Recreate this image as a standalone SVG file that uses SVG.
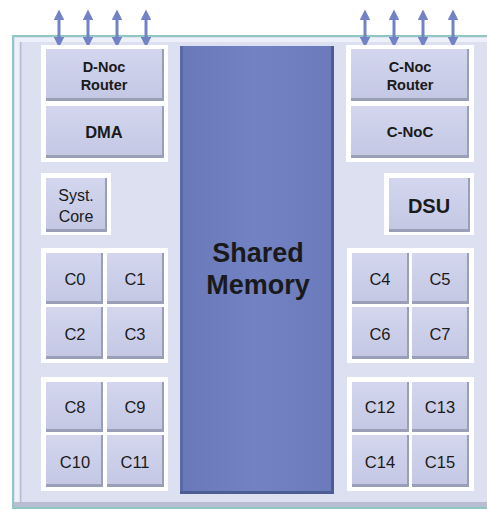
<svg xmlns="http://www.w3.org/2000/svg" width="487" height="510" viewBox="0 0 487 510">
<defs>
<style>
.cell{fill:url(#cg);stroke:none}
.sh{fill:#9a9fb8}
.grp{fill:#ffffff}
.t{font-family:"Liberation Sans",Arial,sans-serif;fill:#1a1a1a;text-anchor:middle}
.c{font-size:16.5px}
.arr{stroke:#7382c4;stroke-width:3;fill:none;marker-start:url(#ah);marker-end:url(#ah)}
</style>
<linearGradient id="cg" x1="0" y1="0" x2="0" y2="1">
<stop offset="0" stop-color="#d3d6ee"/>
<stop offset="1" stop-color="#c4c8e4"/>
</linearGradient>
<linearGradient id="mg" x1="0" y1="0" x2="1" y2="0">
<stop offset="0" stop-color="#6878b8"/>
<stop offset="0.5" stop-color="#7282c2"/>
<stop offset="1" stop-color="#6a7aba"/>
</linearGradient>
<marker id="ah" viewBox="0 0 10 10" refX="3" refY="5" markerWidth="3.6" markerHeight="3.6" orient="auto-start-reverse" markerUnits="strokeWidth">
<path d="M0,0 L10,5 L0,10 z" fill="#7382c4"/>
</marker>
</defs>

<g id="frame">
<rect x="13" y="36" width="480" height="472" fill="#dde0f1" stroke="#8fc7c2" stroke-width="2"/>
<rect x="15" y="38" width="480" height="4" fill="#eef0f9"/>
<rect x="15" y="38" width="4" height="468" fill="#eef0f9"/>
<rect x="20" y="42" width="1.5" height="460" fill="#b8bdd6"/>
<rect x="14" y="502" width="480" height="5" fill="#b9bdd2"/>
</g>

<g id="shared-memory">
<rect x="180" y="46" width="154" height="448" fill="url(#mg)"/>
<rect x="180" y="46" width="3" height="448" fill="#5a69a8"/>
<rect x="331" y="46" width="3" height="448" fill="#4e5c94"/>
<rect x="180" y="491" width="154" height="3" fill="#4e5c94"/>
<text class="t" x="258" y="262" font-size="27" font-weight="bold" fill="#15182a">Shared</text>
<text class="t" x="258" y="294" font-size="27" font-weight="bold" fill="#15182a">Memory</text>
</g>

<g id="connectors">
<line class="arr" x1="59" y1="17" x2="59" y2="40"/>
<line class="arr" x1="88" y1="17" x2="88" y2="40"/>
<line class="arr" x1="117" y1="17" x2="117" y2="40"/>
<line class="arr" x1="146" y1="17" x2="146" y2="40"/>
<line class="arr" x1="365" y1="17" x2="365" y2="40"/>
<line class="arr" x1="394" y1="17" x2="394" y2="40"/>
<line class="arr" x1="423" y1="17" x2="423" y2="40"/>
<line class="arr" x1="453" y1="17" x2="453" y2="40"/>
</g>

<g id="dnoc-group">
<rect class="grp" x="41" y="45" width="127" height="117"/>
<g id="dnoc-router">
<rect class="sh" x="46" y="49" width="118" height="52"/>
<rect class="cell" x="46" y="49" width="116" height="49"/>
<text class="t" x="104" y="72" font-size="14.5" font-weight="bold">D-Noc</text>
<text class="t" x="104" y="90" font-size="14.5" font-weight="bold">Router</text>
</g>
<g id="dma">
<rect class="sh" x="46" y="106" width="118" height="52"/>
<rect class="cell" x="46" y="106" width="116" height="49"/>
<text class="t" x="104" y="138" font-size="16.5" font-weight="bold">DMA</text>
</g>
</g>

<g id="syst-core">
<rect class="grp" x="41" y="173" width="70" height="62"/>
<rect class="sh" x="46" y="178" width="61" height="54"/>
<rect class="cell" x="46" y="178" width="59" height="51"/>
<text class="t" x="76" y="201" font-size="16">Syst.</text>
<text class="t" x="76" y="222" font-size="16">Core</text>
</g>

<g id="cnoc-group">
<rect class="grp" x="346" y="45" width="128" height="117"/>
<g id="cnoc-router">
<rect class="sh" x="351" y="49" width="118" height="52"/>
<rect class="cell" x="351" y="49" width="116" height="49"/>
<text class="t" x="410" y="72" font-size="14.5" font-weight="bold">C-Noc</text>
<text class="t" x="410" y="90" font-size="14.5" font-weight="bold">Router</text>
</g>
<g id="cnoc">
<rect class="sh" x="351" y="106" width="118" height="52"/>
<rect class="cell" x="351" y="106" width="116" height="49"/>
<text class="t" x="410" y="137" font-size="15" font-weight="bold">C-NoC</text>
</g>
</g>

<g id="dsu">
<rect class="grp" x="384" y="173" width="90" height="62"/>
<rect class="sh" x="389" y="178" width="81" height="54"/>
<rect class="cell" x="389" y="178" width="79" height="51"/>
<text class="t" x="429" y="213" font-size="20" font-weight="bold">DSU</text>
</g>

<g id="cluster-0">
<rect class="grp" x="41" y="248" width="127" height="115"/>
<g id="c0"><rect class="sh" x="46" y="253" width="57" height="51"/><rect class="cell" x="46" y="253" width="55" height="48"/><text class="t c" x="75" y="285">C0</text></g>
<g id="c1"><rect class="sh" x="107" y="253" width="57" height="51"/><rect class="cell" x="107" y="253" width="55" height="48"/><text class="t c" x="135" y="285">C1</text></g>
<g id="c2"><rect class="sh" x="46" y="307" width="57" height="52"/><rect class="cell" x="46" y="307" width="55" height="49"/><text class="t c" x="75" y="340">C2</text></g>
<g id="c3"><rect class="sh" x="107" y="307" width="57" height="52"/><rect class="cell" x="107" y="307" width="55" height="49"/><text class="t c" x="135" y="340">C3</text></g>
</g>

<g id="cluster-2">
<rect class="grp" x="41" y="377" width="127" height="114"/>
<g id="c8"><rect class="sh" x="46" y="382" width="57" height="50"/><rect class="cell" x="46" y="382" width="55" height="47"/><text class="t c" x="75" y="413">C8</text></g>
<g id="c9"><rect class="sh" x="107" y="382" width="57" height="50"/><rect class="cell" x="107" y="382" width="55" height="47"/><text class="t c" x="135" y="413">C9</text></g>
<g id="c10"><rect class="sh" x="46" y="435" width="57" height="52"/><rect class="cell" x="46" y="435" width="55" height="49"/><text class="t c" x="75" y="468">C10</text></g>
<g id="c11"><rect class="sh" x="107" y="435" width="57" height="52"/><rect class="cell" x="107" y="435" width="55" height="49"/><text class="t c" x="135" y="468">C11</text></g>
</g>

<g id="cluster-1">
<rect class="grp" x="347" y="248" width="127" height="115"/>
<g id="c4"><rect class="sh" x="352" y="253" width="57" height="51"/><rect class="cell" x="352" y="253" width="55" height="48"/><text class="t c" x="380" y="285">C4</text></g>
<g id="c5"><rect class="sh" x="412" y="253" width="57" height="51"/><rect class="cell" x="412" y="253" width="55" height="48"/><text class="t c" x="440" y="285">C5</text></g>
<g id="c6"><rect class="sh" x="352" y="307" width="57" height="52"/><rect class="cell" x="352" y="307" width="55" height="49"/><text class="t c" x="380" y="340">C6</text></g>
<g id="c7"><rect class="sh" x="412" y="307" width="57" height="52"/><rect class="cell" x="412" y="307" width="55" height="49"/><text class="t c" x="440" y="340">C7</text></g>
</g>

<g id="cluster-3">
<rect class="grp" x="347" y="377" width="127" height="114"/>
<g id="c12"><rect class="sh" x="352" y="382" width="57" height="50"/><rect class="cell" x="352" y="382" width="55" height="47"/><text class="t c" x="380" y="413">C12</text></g>
<g id="c13"><rect class="sh" x="412" y="382" width="57" height="50"/><rect class="cell" x="412" y="382" width="55" height="47"/><text class="t c" x="440" y="413">C13</text></g>
<g id="c14"><rect class="sh" x="352" y="435" width="57" height="52"/><rect class="cell" x="352" y="435" width="55" height="49"/><text class="t c" x="380" y="468">C14</text></g>
<g id="c15"><rect class="sh" x="412" y="435" width="57" height="52"/><rect class="cell" x="412" y="435" width="55" height="49"/><text class="t c" x="440" y="468">C15</text></g>
</g>
</svg>
